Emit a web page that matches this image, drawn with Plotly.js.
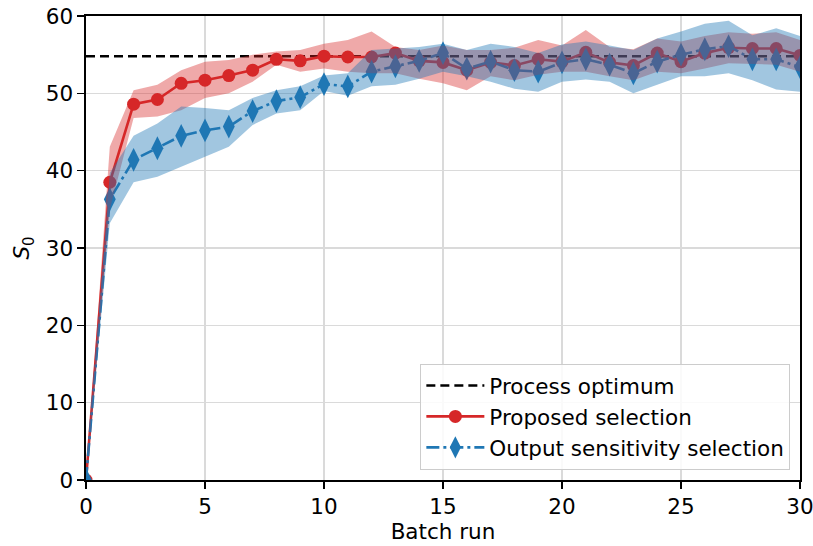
<!DOCTYPE html>
<html><head><meta charset="utf-8">
<script src="https://cdn.plot.ly/plotly-3.0.1.min.js"></script>
<style>body{margin:0;padding:0;background:#fff}#chart{width:813px;height:546px}</style>
</head><body><div id="chart"></div>
<script>
const batch = [0,1,2,3,4,5,6,7,8,9,10,11,12,13,14,15,16,17,18,19,20,21,22,23,24,25,26,27,28,29,30];
const processOptimum = 54.8;

const proposedMean = [0,38.5,48.6,49.2,51.3,51.7,52.3,53.0,54.4,54.2,54.8,54.7,54.7,55.2,54.2,54.0,53.0,54.0,53.6,54.4,54.1,55.3,54.0,53.6,55.2,54.1,55.2,55.9,55.8,55.8,54.9];
const proposedUpper = [0,43.1,50.4,51.1,53.0,54.1,54.3,55.0,55.4,55.6,56.4,56.9,58.0,56.0,55.6,56.2,55.6,55.6,55.9,56.9,56.2,58.2,56.0,55.7,57.1,56.7,57.4,57.9,57.7,57.9,56.9];
const proposedLower = [0,35.0,46.8,47.0,47.8,49.4,50.0,51.5,53.7,52.8,53.2,52.8,52.6,52.6,51.9,51.3,50.4,52.2,51.7,52.4,52.8,52.8,52.2,51.7,52.8,52.6,53.2,53.9,53.8,53.7,52.8];

const sensitivityMean = [0,36.3,41.4,42.9,44.5,45.2,45.7,47.7,49.0,49.5,51.2,50.9,52.8,53.5,54.2,55.2,53.2,54.1,53.0,52.8,54.0,54.4,53.7,52.6,54.1,55.0,55.7,56.1,54.4,54.4,53.4];
const sensitivityUpper = [0,39.7,44.5,46.1,48.3,48.1,47.8,49.4,50.4,50.9,52.3,52.6,55.6,55.8,56.0,56.4,55.6,56.4,56.0,55.2,56.3,56.7,56.2,55.6,57.1,58.0,59.0,59.4,57.5,58.4,57.4];
const sensitivityLower = [0,33.2,38.5,39.2,40.5,41.8,43.1,45.9,47.4,47.8,50.3,49.7,50.9,51.1,51.9,52.8,52.2,51.5,50.6,50.2,51.5,51.8,51.5,50.0,51.1,52.2,52.2,52.6,51.7,50.5,50.2];

const RED = '#d62728', BLUE = '#1f77b4';
const FONT = 'DejaVu Sans, sans-serif';
const FS = 21.5;

function band(x, lo, hi, color) {
  return {
    x: x.concat(x.slice().reverse()),
    y: hi.concat(lo.slice().reverse()),
    type: 'scatter', mode: 'lines', fill: 'toself',
    fillcolor: color, line: {width: 0, color: 'rgba(0,0,0,0)'},
    hoverinfo: 'skip', showlegend: false
  };
}

const traces = [
  {x: [batch[0], batch[batch.length-1]], y: [processOptimum, processOptimum], type: 'scatter', mode: 'lines',
   name: 'Process optimum', legendgroup: 'a', line: {color: '#000', width: 2.6, dash: '9px,5px'}},
  {x: batch, y: proposedMean, type: 'scatter', mode: 'lines+markers', name: 'Proposed selection', legendgroup: 'b',
   line: {color: RED, width: 2.6}, marker: {symbol: 'circle', size: 13, color: RED}},
  {x: batch, y: sensitivityMean, type: 'scatter', mode: 'lines+markers', name: 'Output sensitivity selection', legendgroup: 'c',
   line: {color: BLUE, width: 2.6, dash: '13px,4px,3px,4px'}, marker: {symbol: 'diamond-tall', size: 17, color: BLUE}},
  band(batch, proposedLower, proposedUpper, 'rgba(214,39,40,0.4)'),
  band(batch, sensitivityLower, sensitivityUpper, 'rgba(31,119,180,0.42)')
];

const axisCommon = {
  showline: true, mirror: true, linecolor: '#000', linewidth: 1.6,
  ticks: 'outside', ticklen: 7, tickwidth: 1.5, tickcolor: '#000',
  showgrid: true, gridcolor: '#dadada', gridwidth: 1.5, zeroline: false,
  ticklabeloverflow: 'allow',
  tickfont: {family: FONT, size: FS, color: '#000'}
};

const layout = {
  width: 813, height: 546,
  margin: {l: 86, r: 13, t: 16, b: 66},
  paper_bgcolor: '#fff', plot_bgcolor: '#fff',
  font: {family: FONT, size: FS, color: '#000'},
  xaxis: Object.assign({}, axisCommon, {range: [0, 30], tickvals: [0,5,10,15,20,25,30],
    title: {text: 'Batch run', font: {family: FONT, size: FS}, standoff: 4}}),
  yaxis: Object.assign({}, axisCommon, {range: [0, 60], tickvals: [0,10,20,30,40,50,60],
    title: {text: '<i>S</i><sub>0</sub>', font: {family: FONT, size: FS}, standoff: 10}}),
  legend: {x: 0.468, y: 0.022, xanchor: 'left', yanchor: 'bottom',
    bgcolor: 'rgba(255,255,255,0.85)', bordercolor: '#cccccc', borderwidth: 1.2,
    font: {family: FONT, size: FS}, itemwidth: 58, tracegroupgap: 0},
  showlegend: true
};

Plotly.newPlot('chart', traces, layout, {staticPlot: true, displayModeBar: false});
</script>
</body></html>
